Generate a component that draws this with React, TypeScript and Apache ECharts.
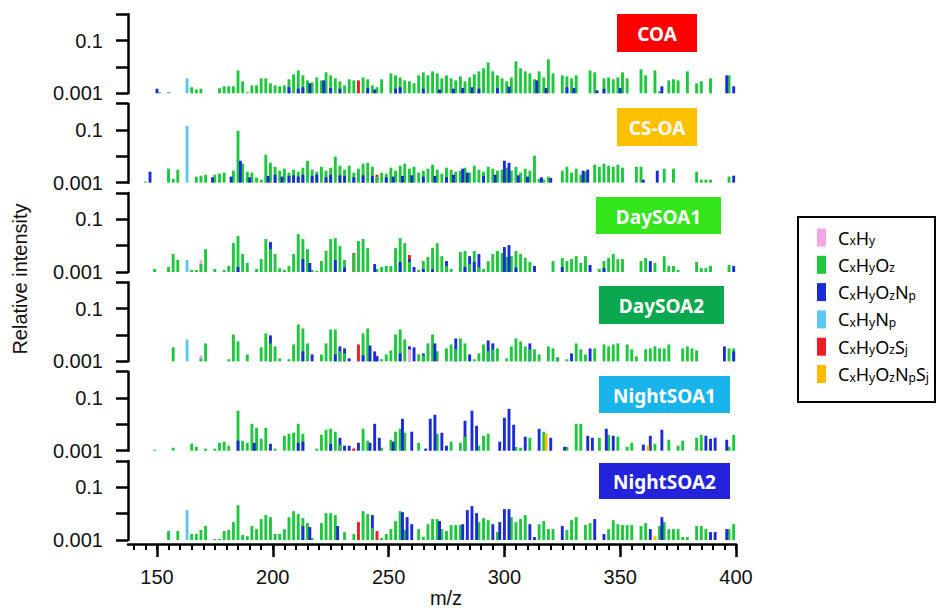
import React, { useEffect, useRef } from 'react';
import * as echarts from 'echarts';

// Relative intensities are written in units of 10^-3 (multiplied by UNIT when building the chart)
const UNIT = 1e-3;

const categories = ['CxHy', 'CxHyOz', 'CxHyOzNp', 'CxHyNp', 'CxHyOzSj', 'CxHyOzNpSj'];
const categoryColors = ['#F5A6E6', '#1EC73C', '#1B2BD6', '#5CC8F0', '#EE1C24', '#FFBB00'];

const panelNames = ['COA', 'CS-OA', 'DaySOA1', 'DaySOA2', 'NightSOA1', 'NightSOA2'];
const panelColors = ['#FF0000', '#FFC000', '#33E51A', '#0CA84F', '#19B5EA', '#2323DC'];

const xMinorTicks = [140, 145, 150, 155, 160, 165, 170, 175, 180, 185, 190, 195, 200, 205, 210, 215, 220, 225, 230, 235, 240, 245, 250, 255, 260, 265, 270, 275, 280, 285, 290, 295, 300, 305, 310, 315, 320, 325, 330, 335, 340, 345, 350, 355, 360, 365, 370, 375, 380, 385, 390, 395, 400];
const xMajorTicks = [150, 200, 250, 300, 350, 400];
const yTickLabels = ['0.1', '0.001'];
const X_MIN = 137.5;
const X_MAX = 400;

// ---- COA ----
const coaGreen: [number, number][] = [[151,1.1],[155,1.1],[165,1.7],[167,1.4],[169,1.5],[177,1.55],[179,1.84],[181,1.84],[183,1.84],[185,7.4],[187,2.85],[189,1.1],[191,2.0],[193,2.0],[195,3.7],[197,3.7],[199,2.4],[201,2.0],[203,1.84],[205,2.0],[207,3.4],[209,5.25],[211,7.4],[213,4.8],[215,3.1],[217,2.6],[219,4.0],[221,3.1],[223,6.25],[225,4.8],[227,3.7],[229,2.85],[231,2.0],[233,3.4],[235,3.1],[239,4.0],[241,3.4],[243,2.0],[245,1.7],[247,3.4],[251,5.7],[253,4.8],[255,4.0],[257,3.1],[259,2.85],[261,2.4],[263,4.8],[265,6.25],[267,4.8],[269,6.8],[271,5.7],[273,3.7],[275,4.8],[277,3.7],[279,3.1],[281,4.4],[283,2.85],[285,4.0],[287,5.25],[289,6.8],[291,8.85],[293,14.9],[295,6.8],[297,4.8],[299,3.7],[301,2.85],[303,4.0],[305,16.3],[307,8.85],[309,6.8],[311,5.7],[313,3.4],[315,6.8],[317,4.0],[319,19.4],[321,5.7],[325,4.8],[327,4.4],[329,3.7],[331,4.8],[337,7.4],[339,6.25],[343,3.7],[345,4.0],[347,3.4],[349,4.0],[351,6.25],[353,3.7],[359,8.1],[361,4.8],[365,7.4],[367,1.2],[371,3.1],[373,3.4],[375,3.1],[379,6.8],[383,2.4],[385,2.85],[389,3.7],[397,4.8]];
const coaBlue: [number, number][] = [[150,1.5],[207,1.7],[211,1.5],[213,1.7],[216,2.4],[222,3.1],[225,1.6],[229,1.5],[241,1.6],[244,1.4],[253,1.5],[255,1.7],[265,1.5],[272,1.4],[278,1.5],[282,1.6],[286,1.7],[289,1.5],[297,1.6],[302,1.8],[314,3.1],[318,1.6],[327,1.7],[330,1.6],[340,1.3],[343,1.5],[350,1.6],[368,1.84],[396,4.8],[399,1.84]];
const coaLightBlue: [number, number][] = [[163,3.7]];
const coaRed: [number, number][] = [[237,3.1]];
const coaPink: [number, number][] = [];
const coaOrange: [number, number][] = [];

// ---- CS-OA ----
const csGreen: [number, number][] = [[145,1.1],[155,3.4],[157,1.4],[159,3.1],[167,1.7],[169,1.84],[171,2.0],[175,2.0],[177,2.2],[179,2.4],[183,2.85],[185,93],[187,5.25],[189,2.6],[191,2.4],[193,1.55],[195,1.3],[197,11.5],[199,5.7],[201,4.0],[203,2.85],[205,3.4],[207,2.4],[209,3.1],[211,2.6],[213,3.7],[215,6.8],[217,3.1],[219,2.6],[221,4.0],[223,2.85],[225,3.7],[227,9.65],[229,4.4],[231,3.1],[233,4.4],[235,2.4],[237,3.4],[239,5.25],[241,5.7],[243,4.0],[245,1.7],[247,2.4],[249,2.2],[251,3.7],[253,2.85],[255,4.4],[257,5.25],[259,3.4],[261,4.0],[263,2.4],[265,2.85],[267,3.4],[269,4.8],[271,3.1],[273,2.2],[275,3.7],[277,3.1],[279,2.6],[281,2.85],[283,3.7],[285,2.4],[287,4.4],[289,3.1],[291,2.6],[293,4.0],[295,3.4],[297,2.85],[299,3.1],[301,3.7],[303,2.85],[305,4.0],[307,2.4],[309,3.4],[311,2.85],[313,10.5],[315,1.4],[317,1.3],[319,1.7],[325,2.85],[327,4.0],[329,2.4],[331,3.4],[333,2.0],[335,2.6],[339,4.8],[341,4.0],[343,5.25],[345,4.4],[347,4.0],[349,4.8],[351,3.7],[357,4.0],[359,4.0],[369,3.4],[373,3.4],[383,2.6],[385,1.3],[387,1.3],[389,1.3],[397,1.7]];
const csBlue: [number, number][] = [[147,2.6],[174,1.6],[182,1.7],[186,6.8],[190,1.6],[198,1.8],[201,2.0],[204,1.7],[207,1.8],[209,1.9],[211,1.7],[213,2.0],[217,1.8],[219,2.0],[223,1.6],[225,2.0],[229,1.9],[231,1.8],[235,1.6],[239,1.9],[243,1.8],[249,1.6],[252,1.7],[256,1.8],[260,1.9],[265,1.7],[270,1.8],[275,1.6],[278,2.0],[282,3.4],[284,2.4],[291,1.8],[296,2.0],[300,6.8],[302,5.7],[306,1.9],[310,1.7],[316,1.6],[320,1.5],[334,2.85],[336,3.1],[360,1.3],[366,2.85],[399,1.84]];
const csLightBlue: [number, number][] = [[163,144]];
const csRed: [number, number][] = [[245,2.0]];
const csPink: [number, number][] = [];
const csOrange: [number, number][] = [];

// ---- DaySOA1 ----
const d1Green: [number, number][] = [[149,1.3],[155,1.55],[157,4.8],[159,2.85],[165,1.2],[167,1.2],[169,2.0],[171,7.4],[175,1.3],[179,1.2],[181,1.7],[183,12.5],[185,23.1],[187,4.8],[189,2.2],[193,1.3],[195,3.1],[197,17.8],[199,7.4],[201,4.8],[203,1.4],[205,1.2],[207,1.7],[209,4.8],[211,27.5],[213,17.8],[215,7.4],[217,1.2],[219,1.1],[221,2.6],[223,6.25],[225,17.8],[227,19.4],[229,9.65],[231,2.85],[235,4.8],[237,14.9],[239,17.8],[241,8.1],[245,1.3],[247,1.55],[249,1.7],[251,1.7],[253,8.1],[255,19.4],[257,12.5],[259,2.4],[263,1.2],[265,2.6],[267,3.7],[269,8.1],[271,12.5],[273,4.0],[275,1.7],[277,1.3],[281,5.7],[283,6.25],[285,2.0],[287,6.25],[289,1.5],[291,1.3],[293,2.6],[295,4.8],[297,6.25],[299,5.25],[301,3.7],[303,4.0],[305,6.25],[307,4.8],[309,3.4],[311,2.4],[321,2.6],[325,3.4],[327,2.6],[329,3.1],[331,4.0],[333,2.2],[335,4.0],[341,1.3],[343,2.6],[345,3.4],[347,4.8],[349,3.1],[351,3.1],[359,2.6],[361,3.4],[365,2.2],[369,4.0],[371,1.7],[373,1.7],[375,1.2],[383,2.4],[385,1.4],[387,1.4],[389,1.7],[397,1.84]];
const d1Blue: [number, number][] = [[185,1.55],[199,13.7],[213,3.1],[216,2.2],[227,2.85],[231,1.5],[244,2.0],[255,2.4],[259,3.1],[261,1.55],[265,1.3],[269,1.3],[275,2.6],[283,1.55],[285,4.0],[287,2.4],[289,4.8],[300,8.85],[302,10.5],[305,1.5],[313,1.7],[325,1.55],[337,1.84],[343,1.4],[363,2.6],[399,1.7]];
const d1LightBlue: [number, number][] = [[163,2.85]];
const d1Red: [number, number][] = [[235,5.25],[259,4.41]];
const d1Pink: [number, number][] = [[169,2.85]];
const d1Orange: [number, number][] = [];

// ---- DaySOA2 ----
const d2Green: [number, number][] = [[157,3.4],[169,1.3],[171,4.8],[181,1.2],[183,10.5],[185,5.7],[189,1.84],[195,3.4],[197,11.5],[199,4.8],[201,3.7],[203,1.3],[207,1.2],[209,4.4],[211,25.2],[213,17.8],[215,4.8],[221,1.84],[223,4.8],[225,16.3],[227,16.3],[229,2.4],[231,2.0],[239,11.5],[241,17.8],[247,1.2],[249,1.84],[251,2.6],[253,10.5],[255,16.3],[257,6.8],[263,1.84],[265,1.7],[267,4.8],[269,10.5],[271,2.4],[275,3.1],[277,4.4],[279,2.85],[281,7.4],[283,4.8],[287,1.2],[289,2.0],[291,4.4],[293,2.4],[295,2.85],[297,3.1],[301,1.3],[303,3.7],[305,7.4],[307,5.7],[309,3.7],[311,2.85],[313,2.85],[315,1.84],[319,3.7],[321,3.1],[323,1.3],[327,1.2],[331,4.8],[333,2.85],[335,1.84],[339,3.1],[343,4.4],[345,3.7],[347,4.4],[349,4.8],[353,4.4],[355,2.85],[357,1.55],[361,2.85],[363,3.1],[365,3.7],[367,3.1],[369,3.1],[371,4.4],[377,3.1],[379,3.7],[381,3.1],[383,2.6],[397,3.1],[399,3.1]];
const d2Blue: [number, number][] = [[199,9.65],[213,2.4],[217,1.84],[227,1.84],[229,3.7],[231,3.1],[233,1.3],[239,1.7],[242,4.0],[244,2.4],[245,1.55],[255,2.0],[259,3.7],[261,3.4],[265,2.0],[270,4.8],[279,7.4],[285,1.84],[293,6.25],[295,4.8],[311,4.8],[323,1.4],[329,2.0],[337,3.1],[395,3.7],[399,2.4]];
const d2LightBlue: [number, number][] = [[163,6.8]];
const d2Red: [number, number][] = [[237,4.4]];
const d2Pink: [number, number][] = [[169,1.7],[245,1.7],[259,2.85]];
const d2Orange: [number, number][] = [];

// ---- NightSOA1 ----
const n1Green: [number, number][] = [[149,1.1],[157,1.3],[165,1.84],[167,1.4],[171,1.2],[175,1.2],[177,2.0],[179,2.2],[181,1.55],[185,32.7],[187,2.4],[189,2.0],[191,10.5],[193,7.4],[195,2.85],[197,7.4],[201,1.2],[205,3.7],[207,4.4],[209,4.8],[211,10.5],[213,4.4],[219,1.2],[221,4.0],[223,6.25],[225,6.8],[227,5.25],[229,1.7],[239,6.8],[241,2.4],[247,1.3],[251,2.6],[253,5.25],[255,6.8],[257,4.8],[263,2.0],[271,4.4],[277,2.2],[281,2.0],[283,3.4],[289,1.55],[291,3.7],[293,4.4],[305,1.4],[307,1.3],[311,3.1],[317,5.25],[327,1.4],[331,10.5],[333,10.5],[341,3.1],[345,4.0],[349,3.4],[353,1.4],[355,2.0],[365,1.84],[371,2.6],[375,1.55],[377,2.4],[383,3.1],[385,4.0],[397,1.4],[399,4.0]];
const n1Blue: [number, number][] = [[185,2.4],[192,2.0],[199,1.84],[211,2.0],[213,2.2],[225,1.8],[229,3.1],[231,1.55],[233,1.55],[237,2.0],[242,2.0],[244,10.5],[246,3.1],[252,2.2],[256,16.3],[260,5.25],[266,1.2],[268,16.3],[270,23.1],[273,4.8],[275,1.55],[283,13.7],[286,32.7],[288,8.85],[298,2.2],[300,17.8],[302,38.9],[304,9.65],[309,3.4],[315,6.8],[320,3.1],[326,1.4],[336,3.7],[338,3.1],[344,6.8],[347,3.7],[360,1.7],[363,3.7],[368,6.25],[387,3.7],[389,2.85],[391,3.1],[396,2.6]];
const n1LightBlue: [number, number][] = [];
const n1Red: [number, number][] = [[235,1.2]];
const n1Pink: [number, number][] = [[235,1.3]];
const n1Orange: [number, number][] = [[318,4.4],[362,1.55]];

// ---- NightSOA2 ----
const n2Green: [number, number][] = [[155,2.2],[159,2.2],[165,1.7],[167,1.7],[169,2.4],[171,3.4],[175,1.1],[177,1.1],[179,2.2],[181,2.4],[183,4.8],[185,21.1],[187,1.55],[189,1.4],[191,3.4],[193,2.6],[195,6.25],[197,8.85],[199,7.4],[201,1.7],[203,1.7],[205,2.6],[207,7.4],[209,12.5],[211,9.65],[213,6.8],[215,4.4],[217,1.2],[221,4.4],[223,10.5],[225,10.5],[227,8.85],[231,2.0],[235,1.7],[239,12.5],[241,9.65],[243,2.85],[247,1.2],[249,1.7],[251,2.6],[253,5.25],[255,12.5],[257,2.4],[263,2.6],[265,1.3],[267,4.0],[269,6.25],[271,6.25],[273,2.6],[275,2.2],[277,3.7],[279,3.7],[281,3.7],[289,4.8],[291,6.8],[293,5.7],[297,2.0],[303,7.4],[305,4.8],[307,6.25],[309,8.85],[315,4.0],[317,5.25],[319,2.6],[321,2.6],[327,2.4],[329,5.7],[331,7.4],[335,3.7],[337,4.4],[345,2.6],[347,5.7],[349,4.0],[351,3.7],[353,3.7],[355,3.7],[359,3.4],[361,4.4],[367,3.4],[369,4.8],[371,2.6],[373,2.6],[375,2.6],[377,1.3],[379,1.3],[383,3.4],[385,3.4],[387,2.6],[397,2.6],[399,4.0]];
const n2Blue: [number, number][] = [[213,3.4],[216,3.1],[228,3.4],[243,8.85],[256,11.5],[258,7.4],[260,4.0],[272,5.25],[282,4.0],[284,13.7],[286,19.4],[288,10.5],[295,4.0],[298,4.8],[300,14.9],[302,14.9],[311,4.0],[313,1.3],[325,3.4],[339,6.25],[343,1.7],[363,2.6],[368,7.4],[389,2.0],[391,2.0],[396,2.6]];
const n2LightBlue: [number, number][] = [[163,13.7]];
const n2Red: [number, number][] = [[237,4.8],[245,2.2]];
const n2Pink: [number, number][] = [];
const n2Orange: [number, number][] = [[365,1.4]];

// order of each row follows `categories`
const panelData: [number, number][][][] = [
  [coaPink, coaGreen, coaBlue, coaLightBlue, coaRed, coaOrange],
  [csPink, csGreen, csBlue, csLightBlue, csRed, csOrange],
  [d1Pink, d1Green, d1Blue, d1LightBlue, d1Red, d1Orange],
  [d2Pink, d2Green, d2Blue, d2LightBlue, d2Red, d2Orange],
  [n1Pink, n1Green, n1Blue, n1LightBlue, n1Red, n1Orange],
  [n2Pink, n2Green, n2Blue, n2LightBlue, n2Red, n2Orange],
];

// ---- layout (positions / sizes / styles) ----
const FONT = '"Liberation Sans", Arial, Helvetica, sans-serif';
const LABEL_FONT = '"Noto Sans", "Open Sans", sans-serif';
const PANEL_BOTTOM0 = 93.3;
const PANEL_STEP = 89.35;
const PANEL_H = 79;
const GRID_LEFT = 128;
const GRID_WIDTH = 608;
const BAR_WIDTH = 2.9;
const labelBoxes = [
  { x: 617, y: 14, w: 80, h: 38 },
  { x: 617, y: 108, w: 80, h: 38 },
  { x: 596, y: 197, w: 125, h: 37 },
  { x: 599, y: 286, w: 125, h: 38 },
  { x: 599, y: 376, w: 131, h: 37 },
  { x: 599, y: 463, w: 131, h: 36 },
];

function buildSeries(panelIdx: number) {
  const byMz = new Map<number, { cat: number; v: number }[]>();
  panelData[panelIdx].forEach((arr, cat) => {
    arr.forEach(([mz, v]) => {
      if (!byMz.has(mz)) byMz.set(mz, []);
      byMz.get(mz)!.push({ cat, v });
    });
  });
  // layer: tallest bar drawn first, shorter ones in front
  const layers: Map<number, [number, number][]>[] = [];
  byMz.forEach((list, mz) => {
    list.sort((a, b) => b.v - a.v);
    list.forEach((it, r) => {
      if (!layers[r]) layers[r] = new Map();
      if (!layers[r].has(it.cat)) layers[r].set(it.cat, []);
      layers[r].get(it.cat)!.push([mz, it.v * UNIT]);
    });
  });
  const series: any[] = [];
  layers.forEach((layer, r) => {
    for (let cat = 0; cat < categories.length; cat++) {
      const data = layer.get(cat);
      if (!data) continue;
      series.push({
        type: 'bar',
        name: categories[cat],
        xAxisIndex: panelIdx,
        yAxisIndex: panelIdx,
        data,
        barWidth: BAR_WIDTH,
        barGap: '-100%',
        z: 2 + r,
        itemStyle: { color: categoryColors[cat] },
        emphasis: { disabled: true },
      });
    }
  });
  return series;
}

function legendFormatter(name: string) {
  return '{sp| }' + name.replace(/([A-Z])([a-z])/g, '{b|$1}{s|$2}');
}

function buildOption() {
  const grids = panelNames.map((_, i) => ({
    left: GRID_LEFT,
    width: GRID_WIDTH,
    top: PANEL_BOTTOM0 + PANEL_STEP * i - PANEL_H,
    height: PANEL_H,
    containLabel: false,
    outerBoundsMode: 'none',
  }));
  const xAxes: any[] = panelNames.map((_, i) => ({
    type: 'value',
    gridIndex: i,
    min: X_MIN,
    max: X_MAX,
    show: i === panelNames.length - 1,
    position: 'bottom',
    offset: 4,
    axisLine: { show: true, onZero: false, lineStyle: { color: '#000', width: 2.5 } },
    axisTick: { show: true, customValues: xMinorTicks, length: 6, lineStyle: { color: '#000', width: 2 } },
    axisLabel: { show: false },
    splitLine: { show: false },
  }));
  xAxes.push({
    type: 'value',
    gridIndex: panelNames.length - 1,
    min: X_MIN,
    max: X_MAX,
    position: 'bottom',
    offset: 4,
    axisLine: { show: false, onZero: false },
    axisTick: { show: true, customValues: xMajorTicks, length: 13, lineStyle: { color: '#000', width: 2.5 } },
    axisLabel: { show: true, customValues: xMajorTicks, margin: 23, fontSize: 20, color: '#111', fontFamily: FONT },
    splitLine: { show: false },
  });
  const yAxes = panelNames.map((_, i) => ({
    type: 'log',
    logBase: 10,
    gridIndex: i,
    min: 0.001,
    max: 1,
    startValue: 0.001,
    axisLine: { show: true, lineStyle: { color: '#000', width: 2.5 } },
    axisTick: { show: true, inside: false, length: 12, lineStyle: { color: '#000', width: 2.5 } },
    minorTick: { show: false },
    axisLabel: {
      margin: 25,
      fontSize: 20,
      color: '#111',
      fontFamily: FONT,
      formatter: (v: number) => {
        const e = Math.round(Math.log10(v));
        return e === -1 ? yTickLabels[0] : e === -3 ? yTickLabels[1] : '';
      },
    },
    splitLine: { show: false },
  }));
  const series: any[] = [];
  panelNames.forEach((_, i) => series.push(...buildSeries(i)));

  const graphic: any[] = [];
  panelNames.forEach((name, i) => {
    const b = labelBoxes[i];
    graphic.push({
      type: 'rect',
      shape: { x: b.x, y: b.y, width: b.w, height: b.h },
      style: { fill: panelColors[i] },
      z: 10,
    });
    graphic.push({
      type: 'text',
      x: b.x + b.w / 2,
      y: b.y + b.h / 2 + 1,
      style: { text: name, fill: '#fff', fontSize: 19, fontWeight: 'bold', fontFamily: LABEL_FONT, align: 'center', verticalAlign: 'middle' },
      z: 11,
    });
  });
  graphic.push({
    type: 'text',
    x: 20,
    y: 279,
    rotation: Math.PI / 2,
    style: { text: 'Relative intensity', fill: '#111', fontSize: 20, fontFamily: FONT, align: 'center', verticalAlign: 'middle' },
  });
  graphic.push({
    type: 'text',
    x: 446,
    y: 598,
    style: { text: 'm/z', fill: '#111', fontSize: 20, fontFamily: FONT, align: 'center', verticalAlign: 'middle' },
  });
  graphic.push({
    type: 'rect',
    shape: { x: 798, y: 217, width: 137, height: 185 },
    style: { fill: 'none', stroke: '#000', lineWidth: 2 },
  });

  return {
    animation: false,
    backgroundColor: '#fff',
    textStyle: { fontFamily: FONT },
    grid: grids,
    xAxis: xAxes,
    yAxis: yAxes,
    legend: {
      data: categories,
      orient: 'vertical',
      left: 817,
      top: 228.5,
      padding: 0,
      itemWidth: 9,
      itemHeight: 18,
      itemGap: 9.3,
      icon: 'rect',
      selectedMode: false,
      formatter: legendFormatter,
      textStyle: {
        color: '#000',
        fontFamily: LABEL_FONT,
        rich: {
          sp: { width: 7, fontSize: 10, lineHeight: 18 },
          b: { fontSize: 18, lineHeight: 18, fontFamily: LABEL_FONT, color: '#000' },
          s: { fontSize: 12, lineHeight: 4, verticalAlign: 'bottom', fontFamily: LABEL_FONT, color: '#000' },
        },
      },
    },
    graphic,
    series,
  };
}

export default function App() {
  const ref = useRef<HTMLDivElement>(null);
  useEffect(() => {
    document.body.style.margin = '0';
    const chart = echarts.init(ref.current!, null, { renderer: 'svg' });
    chart.setOption(buildOption() as any);
    return () => chart.dispose();
  }, []);
  return <div ref={ref} style={{ width: 937, height: 608 }} />;
}
